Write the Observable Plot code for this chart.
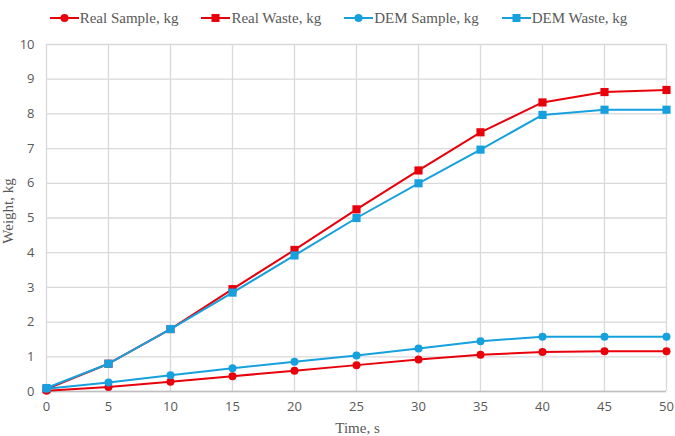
<!DOCTYPE html>
<html>
<head>
<meta charset="utf-8">
<script src="https://cdn.jsdelivr.net/npm/d3@7"></script>
<script src="https://cdn.jsdelivr.net/npm/@observablehq/plot@0.6"></script>
<style>
  html, body { margin: 0; padding: 0; background: #fff; }
  body { width: 675px; height: 436px; overflow: hidden; }
  #legend {
    height: 36px; display: flex; justify-content: center; align-items: center;
    gap: 23px; font-family: "Liberation Serif", "Times New Roman", serif;
    font-size: 15px; color: #595959; padding-left: 2px; box-sizing: border-box;
  }
  #legend .item { display: flex; align-items: center; }
  #legend svg { margin-right: 1px; }
</style>
</head>
<body>
<div id="legend"></div>
<div id="chart"></div>
<script>
// Time samples (s) and measured / simulated weights (kg)
const times      = [0, 5, 10, 15, 20, 25, 30, 35, 40, 45, 50];
const realSample = [0.02, 0.13, 0.28, 0.44, 0.60, 0.76, 0.92, 1.06, 1.14, 1.16, 1.16];
const realWaste  = [0.07, 0.80, 1.80, 2.95, 4.08, 5.25, 6.37, 7.47, 8.33, 8.63, 8.69];
const demSample  = [0.08, 0.26, 0.47, 0.67, 0.86, 1.04, 1.24, 1.45, 1.58, 1.58, 1.58];
const demWaste   = [0.10, 0.80, 1.80, 2.85, 3.92, 5.00, 6.00, 6.97, 7.97, 8.12, 8.12];

const seriesNames  = ["Real Sample, kg", "Real Waste, kg", "DEM Sample, kg", "DEM Waste, kg"];
const seriesValues = [realSample, realWaste, demSample, demWaste];
const seriesColors = ["#e8000b", "#e8000b", "#16a1de", "#16a1de"];
const seriesSymbol = ["circle", "square", "circle", "square"];

const xTicks = d3.range(0, 51, 5);
const yTicks = d3.range(0, 11, 1);

const rows = seriesNames.map((name, i) => ({
  name, color: seriesColors[i], symbol: seriesSymbol[i],
  points: times.map((t, j) => ({t, w: seriesValues[i][j]}))
}));

// Legend
const legend = d3.select("#legend");
rows.forEach(s => {
  const item = legend.append("span").attr("class", "item");
  const sw = item.append("svg").attr("width", 29).attr("height", 12);
  sw.append("line").attr("x1", 0).attr("x2", 29).attr("y1", 6).attr("y2", 6)
    .attr("stroke", s.color).attr("stroke-width", 2);
  if (s.symbol === "circle") {
    sw.append("circle").attr("cx", 14.5).attr("cy", 6).attr("r", 4).attr("fill", s.color);
  } else {
    sw.append("rect").attr("x", 10.5).attr("y", 2).attr("width", 8).attr("height", 8).attr("fill", s.color);
  }
  item.append("span").text(s.name);
});

const lineMarks = [];
rows.forEach(s => {
  lineMarks.push(Plot.line(s.points, {x: "t", y: "w", stroke: s.color, strokeWidth: 2}));
  lineMarks.push(Plot.dot(s.points, {x: "t", y: "w", fill: s.color, stroke: "none",
    symbol: s.symbol, r: s.symbol === "circle" ? 4 : 4.6}));
});

const chart = Plot.plot({
  width: 675,
  height: 400,
  marginTop: 8,
  marginLeft: 46,
  marginRight: 9,
  marginBottom: 45,
  style: {fontFamily: "'Open Sans', sans-serif", fontSize: "13px", color: "#595959", background: "#fff"},
  x: {domain: [0, 50], ticks: xTicks},
  y: {domain: [0, 10], ticks: yTicks},
  marks: [
    Plot.gridX(xTicks, {stroke: "#d9d9d9", strokeOpacity: 1, strokeWidth: 1.3}),
    Plot.gridY(yTicks, {stroke: "#d9d9d9", strokeOpacity: 1, strokeWidth: 1.3}),
    Plot.ruleY([0], {stroke: "#bfbfbf", strokeWidth: 1.3}),
    Plot.axisX(xTicks, {tickSize: 0, tickPadding: 10, label: null, fill: "#595959", fontSize: 13}),
    Plot.axisY(yTicks, {tickSize: 0, tickPadding: 12, label: null, fill: "#595959", fontSize: 13}),
    ...lineMarks,
    Plot.text(["Weight, kg"], {frameAnchor: "left", textAnchor: "middle", lineAnchor: "middle",
      dx: -38, dy: -7, rotate: -90,
      fontFamily: "'Liberation Serif', serif", fontSize: 15, fill: "#595959"}),
    Plot.text(["Time, s"], {frameAnchor: "bottom", textAnchor: "middle", lineAnchor: "bottom",
      dx: 1, dy: 41,
      fontFamily: "'Liberation Serif', serif", fontSize: 15, fill: "#595959"})
  ]
});
document.getElementById("chart").appendChild(chart);
</script>
</body>
</html>
